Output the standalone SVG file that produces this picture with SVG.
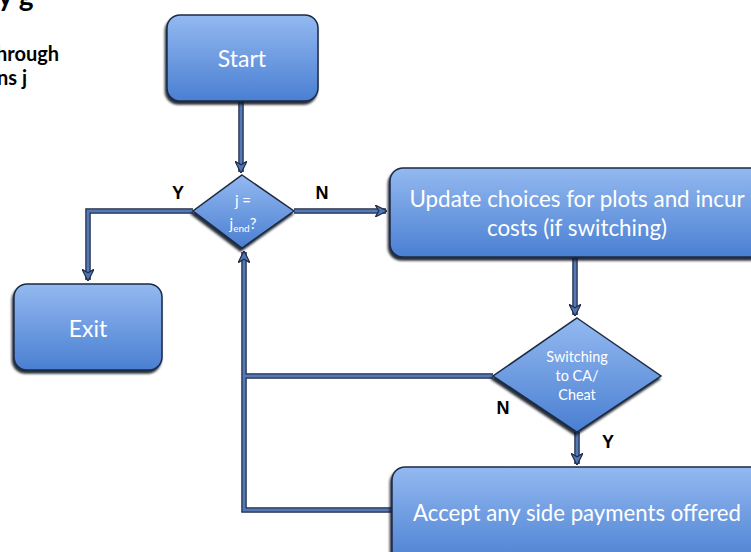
<svg xmlns="http://www.w3.org/2000/svg" width="751" height="552" viewBox="0 0 751 552">
  <defs>
    <linearGradient id="fill" x1="0" y1="0" x2="0" y2="1">
      <stop offset="0" stop-color="#93b9f0"/>
      <stop offset="1" stop-color="#4a7fd2"/>
    </linearGradient>
    <marker id="arrow" viewBox="0 0 10 10" refX="9" refY="5" markerWidth="4" markerHeight="4" orient="auto" markerUnits="strokeWidth">
      <path d="M0,0 L10,5 L0,10 L3,5 Z" fill="#4f76b3" stroke="#1e2c48" stroke-width="1"/>
    </marker>
    <filter id="shadow" x="-10%" y="-10%" width="120%" height="130%">
      <feDropShadow dx="-1.5" dy="3" stdDeviation="1" flood-color="#0a1220" flood-opacity="0.9"/>
    </filter>
  </defs>
  <style>
    .box { fill: url(#fill); stroke: #1c2a44; stroke-width: 1.5; filter: url(#shadow); }
    .label { fill: #ffffff; font-family: Lato, "Open Sans", "Liberation Sans", sans-serif; text-anchor: middle; }
    .yn { fill: #000000; font-family: "Liberation Sans", Arial, sans-serif; font-size: 18px; font-weight: bold; text-anchor: middle; }
    .wire-out { fill: none; stroke: #1e2c48; stroke-width: 5.5; }
    .wire-in { fill: none; stroke: #5479b5; stroke-width: 3; }
    .head { font-family: Lato, "Liberation Sans", Arial, sans-serif; font-weight: bold; fill: #000000; }
  </style>

  <rect width="751" height="552" fill="#ffffff"/>

  <!-- heading fragments at the left edge -->
  <text class="head" x="-2" y="6" font-size="28">y g</text>
  <text class="head" x="-4" y="61" font-size="20">hrough</text>
  <text class="head" x="-3" y="85" font-size="20">ns j</text>

  <!-- connectors -->
  <g id="connectors">
    <g class="wire-out">
      <path d="M241,101 V172"/>
      <path d="M193,211 H88 V280"/>
      <path d="M294,211 H386"/>
      <path d="M575,257 V315"/>
      <path d="M493,376 H244"/>
      <path d="M577,432 V464"/>
      <path d="M392,510 H244 V252"/>
    </g>
    <g class="wire-in">
      <path d="M241,101 V172" marker-end="url(#arrow)"/>
      <path d="M193,211 H88 V280" marker-end="url(#arrow)"/>
      <path d="M294,211 H386" marker-end="url(#arrow)"/>
      <path d="M575,257 V315" marker-end="url(#arrow)"/>
      <path d="M493,376 H244"/>
      <path d="M577,432 V464" marker-end="url(#arrow)"/>
      <path d="M392,510 H244 V252" marker-end="url(#arrow)"/>
    </g>
    <text class="yn" x="178" y="199">Y</text>
    <text class="yn" x="322" y="199">N</text>
    <text class="yn" x="503" y="414">N</text>
    <text class="yn" x="608" y="448">Y</text>
  </g>

  <g id="start">
    <rect class="box" x="167" y="15" width="151" height="86" rx="13"/>
    <text class="label" x="242" y="67" font-size="23">Start</text>
  </g>

  <g id="check-end">
    <polygon class="box" points="242,175 294,211 242,248 193,211"/>
    <text class="label" x="243" y="206" font-size="15">j =</text>
    <text class="label" x="243" y="229" font-size="15">j<tspan font-size="10" dy="3">end</tspan><tspan dy="-3">?</tspan></text>
  </g>

  <g id="exit">
    <rect class="box" x="14" y="284" width="148" height="86" rx="13"/>
    <text class="label" x="88" y="337" font-size="23">Exit</text>
  </g>

  <g id="update">
    <rect class="box" x="390" y="168" width="375" height="89" rx="13"/>
    <text class="label" x="577" y="207" font-size="22.4">Update choices for plots and incur</text>
    <text class="label" x="577" y="236" font-size="22.4">costs (if switching)</text>
  </g>

  <g id="switching">
    <polygon class="box" points="577,318 661,376 577,432 493,376"/>
    <text class="label" x="577" y="362" font-size="14.4">Switching</text>
    <text class="label" x="577" y="381" font-size="14.4">to CA/</text>
    <text class="label" x="577" y="400" font-size="14.4">Cheat</text>
  </g>

  <g id="accept">
    <rect class="box" x="392" y="467" width="375" height="100" rx="13"/>
    <text class="label" x="577" y="521" font-size="22.2">Accept any side payments offered</text>
  </g>
</svg>
